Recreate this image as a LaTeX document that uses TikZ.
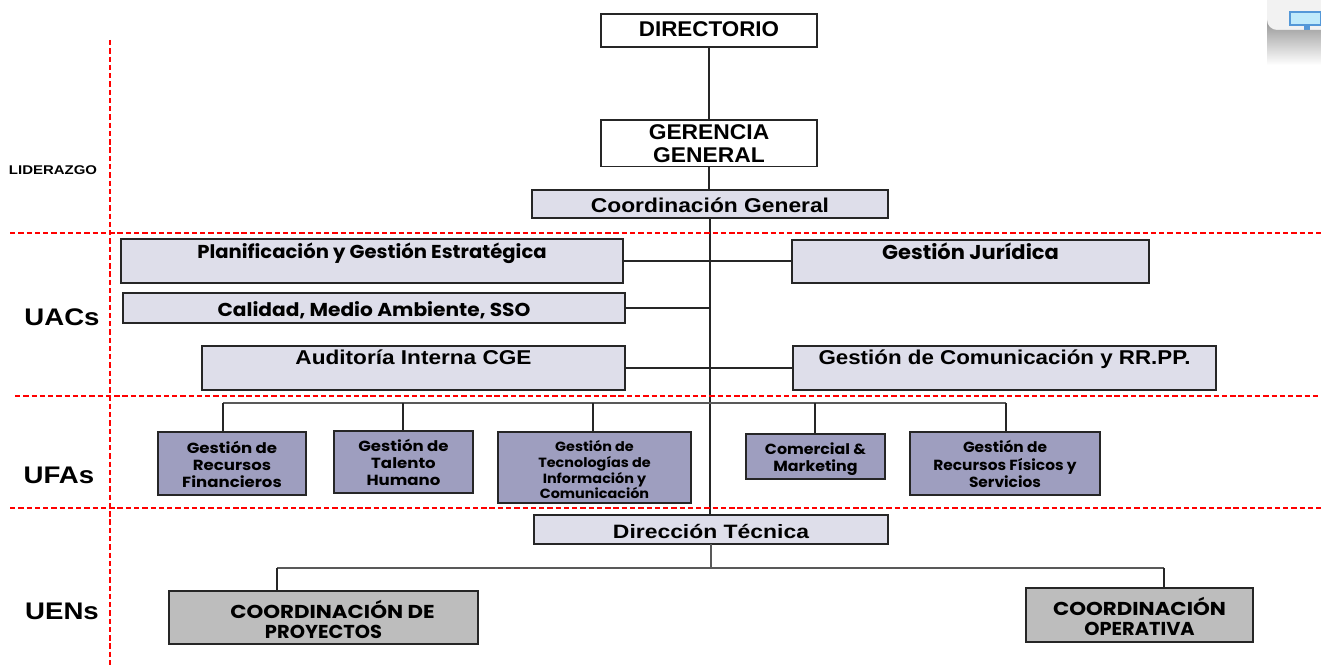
\documentclass[tikz,border=0pt]{standalone}
\usepackage{fontspec}
\setmainfont{Liberation Sans}
\newfontfamily\gothic{Poppins}
\definecolor{lav}{HTML}{DEDEEA}
\definecolor{pur}{HTML}{9E9EBF}
\definecolor{grs}{HTML}{BDBDBD}
\newcommand{\up}[2]{\smash{\raisebox{#1}{#2}}}
\newcommand{\fnt}[2]{\fontsize{#1}{#2}\selectfont}
\newcommand{\sx}[3][2.6pt]{\raisebox{-#1}[\height][\depth]{\scalebox{#2}[1]{\begin{tabular}{@{}c@{}}#3\end{tabular}}}}
\newcommand{\wider}[1]{\scalebox{1.1}[1]{#1}}
\tikzset{
  x=0.75pt,y=-0.75pt,
  bx/.style={draw=black!85,line width=1pt,inner sep=0pt,outer sep=0pt,anchor=north west},
  wbox/.style={bx,fill=white},
  lavbox/.style={bx,fill=lav},
  purbox/.style={bx,fill=pur},
  grsbox/.style={bx,fill=grs},
  arial/.style={font=\bfseries\fnt{#1}{17.4}},
  goth/.style 2 args={font=\gothic\bfseries\fnt{#1}{#2}},
  conn/.style={draw=black!85,line width=0.8pt},
  bus/.style={draw=black!65,line width=1pt},
  redd/.style={draw=red,line width=0.8pt,dash pattern=on 4pt off 2.2pt},
  lab/.style={inner sep=0pt}
}
\begin{document}
\begin{tikzpicture}
\useasboundingbox (0,0) rectangle (1321,667);
% corner remnant
\fill[black!5] (1321,0) -- (1267,0) -- (1267,22) -- (1272,30) -- (1321,30) -- cycle;
\draw[draw=cyan!60!blue!70,fill=cyan!25,line width=1pt] (1290,12) rectangle (1321,25);
\fill[cyan!60!blue!70] (1304,25) rectangle (1310,30);
\shade[top color=black!42,bottom color=white] (1321,30) -- (1277,30) arc[start angle=90,end angle=180,radius=10] -- (1267,65) -- (1321,65) -- cycle;
% boxes
\node[wbox,arial=16,minimum width=216*0.75pt,minimum height=33*0.75pt] (dir) at (601,14) {\sx[1pt]{1.05}{DIRECTORIO}};
\node[wbox,arial=16,minimum width=216*0.75pt,minimum height=45*0.75pt] (ger) at (601,120) {\sx[2.2pt]{1.07}{GERENCIA\\GENERAL}};
\node[lavbox,arial=15,minimum width=356*0.75pt,minimum height=28*0.75pt] (coo) at (532,190) {\sx[3pt]{1.14}{Coordinación General}};
\node[lavbox,goth={14}{16},minimum width=502*0.75pt,minimum height=44*0.75pt] (pla) at (121,239) {\up{3.5pt}{\sx[1.5pt]{1.05}{Planificación y Gestión Estratégica}}};
\node[lavbox,goth={14}{16},minimum width=502*0.75pt,minimum height=30*0.75pt] (cal) at (123,293) {\sx[3pt]{1.08}{Calidad, Medio Ambiente, SSO}};
\node[lavbox,arial=15,minimum width=423*0.75pt,minimum height=44*0.75pt] (aud) at (202,346) {\up{3.5pt}{\sx[0.8pt]{1.13}{Auditoría Interna CGE}}};
\node[lavbox,goth={15}{16},minimum width=357*0.75pt,minimum height=43*0.75pt] (jur) at (792,240) {\up{3.5pt}{\sx[1.5pt]{1.05}{Gestión Jurídica}}};
\node[lavbox,arial=15,minimum width=423*0.75pt,minimum height=44*0.75pt] (com) at (793,346) {\up{3.5pt}{\sx[0.8pt]{1.117}{Gestión de Comunicación y RR.PP.}}};
\node[purbox,goth={11}{12.8},minimum width=148*0.75pt,minimum height=63*0.75pt] (rec) at (158,432) {\sx[2.3pt]{1.13}{Gestión de\\Recursos\\Financieros}};
\node[purbox,goth={11}{12.8},minimum width=139*0.75pt,minimum height=62*0.75pt] (tal) at (334,431) {\sx[2.3pt]{1.13}{Gestión de\\Talento\\Humano}};
\node[purbox,goth={10}{11.2},minimum width=193*0.75pt,minimum height=71*0.75pt] (tec) at (498,432) {\sx[3.4pt]{1.08}{Gestión de\\Tecnologías de\\Información y\\Comunicación}};
\node[purbox,goth={11}{12},minimum width=139*0.75pt,minimum height=45*0.75pt] (cmk) at (746,434) {\sx[2.3pt]{1.08}{Comercial \&\\Marketing}};
\node[purbox,goth={11}{12.8},minimum width=190*0.75pt,minimum height=63*0.75pt] (rfs) at (910,432) {\sx[2.3pt]{1.05}{Gestión de\\Recursos Físicos y\\Servicios}};
\node[lavbox,arial=14.5,minimum width=354*0.75pt,minimum height=29*0.75pt] (dte) at (534,515) {\sx[3pt]{1.185}{Dirección Técnica}};
\node[grsbox,goth={14}{15.6},minimum width=309*0.75pt,minimum height=53*0.75pt] (pry) at (169,591) {\sx[3.7pt]{1.04}{\hspace*{13pt}\wider{COORDINACIÓN DE}\\PROYECTOS}};
\node[grsbox,goth={14}{15.6},minimum width=227*0.75pt,minimum height=54*0.75pt] (ope) at (1026,588) {\sx[3.4pt]{1.04}{\wider{COORDINACIÓN}\\OPERATIVA}};
% labels
\node[lab,font=\bfseries\fnt{9.5}{10}] (l1) at (53,169) {\sx[2.2pt]{1.18}{LIDERAZGO}};
\node[lab,font=\bfseries\fnt{18}{20}] (l2) at (62,316) {\sx[3pt]{1.15}{UACs}};
\node[lab,font=\bfseries\fnt{18}{20}] (l3) at (59,474) {\sx[3pt]{1.15}{UFAs}};
\node[lab,font=\bfseries\fnt{18}{20}] (l4) at (62,610) {\sx[3pt]{1.15}{UENs}};
% coordinates
\coordinate (bl) at (223,403);
\coordinate (b2) at (403,403);
\coordinate (b3) at (593,403);
\coordinate (b4) at (815,403);
\coordinate (br) at (1006,403);
\coordinate (ul) at (277,568);
\coordinate (um) at (711,568);
\coordinate (ur) at (1164,568);
% connectors
\draw[conn] (dir.south) -- (ger.north);
\draw[conn] (ger.south) -- (ger.south |- coo.north);
\draw[conn] (coo.south) ++(0,0) coordinate (ct) -- (ct |- dte.north);
\draw[conn] (pla.east) -- (pla.east -| jur.west);
\draw[conn] (cal.east) -- (cal.east -| ct);
\draw[conn] (aud.east) -- (com.west);
\draw[bus] (bl) -- (br);
\draw[conn] (bl) -- (bl |- rec.north);
\draw[conn] (b2) -- (b2 |- tal.north);
\draw[conn] (b3) -- (b3 |- tec.north);
\draw[conn] (b4) -- (b4 |- cmk.north);
\draw[conn] (br) -- (br |- rfs.north);
\draw[bus] (um |- dte.south) -- (um);
\draw[bus,line width=0.8pt] (ul) -- (ur);
\draw[conn] (ul) -- (ul |- pry.north);
\draw[conn] (ur) -- (ur |- ope.north);
% red guides
\coordinate (h1a) at (10,233); \coordinate (h1b) at (1321,233);
\coordinate (h2a) at (15,396); \coordinate (h2b) at (1321,396);
\coordinate (h3a) at (10,508); \coordinate (h3b) at (1321,508);
\coordinate (va) at (110,40); \coordinate (vb) at (110,665);
\draw[redd] (h1a) -- (h1b);
\draw[redd] (h2a) -- (h2b);
\draw[redd] (h3a) -- (h3b);
\draw[redd] (va) -- (vb);
\end{tikzpicture}
\end{document}
